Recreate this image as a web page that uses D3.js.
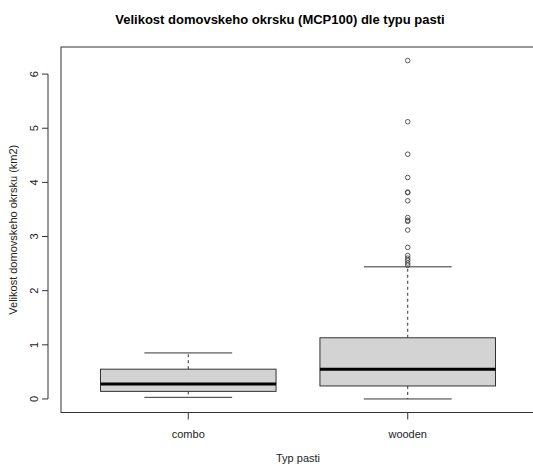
<!DOCTYPE html>
<meta charset="utf-8">
<html>
<head>
<style>
  body { margin: 0; background: #fff; }
  text { font-family: "Liberation Sans", Arial, sans-serif; }
</style>
</head>
<body>
<script src="https://d3js.org/d3.v7.min.js"></script>
<svg width="533" height="466"></svg>
<script>
    // box statistics
    var categories = ["combo", "wooden"];
    var whiskerLow = [0.03, 0.0];
    var q1 = [0.14, 0.24];
    var median = [0.277, 0.55];
    var q3 = [0.55, 1.13];
    var whiskerHigh = [0.85, 2.44];
    var outliers = [[], [6.25, 5.12, 4.52, 4.09, 3.82, 3.81, 3.66, 3.35, 3.30, 3.28, 3.12, 2.80, 2.65, 2.60, 2.56, 2.51, 2.47]];
    var yTicks = [0, 1, 2, 3, 4, 5, 6];

    var svg = d3.select("svg");
    var pLeft = 61, pRight = 535, pTop = 47, pBottom = 412.5;

    var x = d3.scaleLinear().domain([0.42, 2.58]).range([pLeft, pRight]);
    var y = d3.scaleLinear().domain([-0.25, 6.5]).range([pBottom, pTop]);
    var boxW = x(1.8) - x(1);

    svg.append("text")
        .attr("x", 280).attr("y", 24)
        .attr("text-anchor", "middle")
        .attr("font-weight", "bold")
        .attr("font-size", "13px")
        .text("Velikost domovskeho okrsku (MCP100) dle typu pasti");

    var g = svg.append("g");

    categories.forEach(function (c, i) {
        var cx = x(i + 1);
        // dashed whiskers
        g.append("line").attr("x1", cx).attr("x2", cx)
            .attr("y1", y(q3[i])).attr("y2", y(whiskerHigh[i]))
            .attr("stroke", "#333").attr("stroke-dasharray", "3,3");
        g.append("line").attr("x1", cx).attr("x2", cx)
            .attr("y1", y(q1[i])).attr("y2", y(whiskerLow[i]))
            .attr("stroke", "#333").attr("stroke-dasharray", "3,3");
        // whisker caps
        [whiskerLow[i], whiskerHigh[i]].forEach(function (v) {
            g.append("line").attr("x1", cx - boxW / 4).attr("x2", cx + boxW / 4)
                .attr("y1", y(v)).attr("y2", y(v)).attr("stroke", "#333");
        });
        g.append("rect")
            .attr("x", cx - boxW / 2).attr("width", boxW)
            .attr("y", y(q3[i])).attr("height", y(q1[i]) - y(q3[i]))
            .attr("fill", "#d3d3d3").attr("stroke", "#333");
        g.append("line").attr("x1", cx - boxW / 2).attr("x2", cx + boxW / 2)
            .attr("y1", y(median[i])).attr("y2", y(median[i]))
            .attr("stroke", "#000").attr("stroke-width", 3);
        g.selectAll(null).data(outliers[i]).enter().append("circle")
            .attr("cx", cx).attr("cy", function (d) { return y(d); })
            .attr("r", 2.3).attr("fill", "none").attr("stroke", "#333").attr("stroke-width", 0.8);
    });

    // frame
    svg.append("rect").attr("x", pLeft).attr("y", pTop)
        .attr("width", pRight - pLeft).attr("height", pBottom - pTop)
        .attr("fill", "none").attr("stroke", "#333");

    // y axis
    var ya = svg.append("g").attr("transform", "translate(" + (pLeft - 13) + ",0)");
    ya.append("line").attr("x1", 0).attr("x2", 0)
        .attr("y1", y(0)).attr("y2", y(6)).attr("stroke", "#333");
    yTicks.forEach(function (t) {
        ya.append("line").attr("x1", -6).attr("x2", 0)
            .attr("y1", y(t)).attr("y2", y(t)).attr("stroke", "#333");
        ya.append("text").attr("transform", "translate(-10," + y(t) + ") rotate(-90)")
            .attr("text-anchor", "middle").attr("font-size", "11px").attr("fill", "#222")
            .text(t);
    });

    // x axis
    var xa = svg.append("g").attr("transform", "translate(0," + pBottom + ")");
    categories.forEach(function (c, i) {
        xa.append("line").attr("x1", x(i + 1)).attr("x2", x(i + 1))
            .attr("y1", 0).attr("y2", 7).attr("stroke", "#333");
        xa.append("text").attr("x", x(i + 1)).attr("y", 25)
            .attr("text-anchor", "middle").attr("font-size", "11px").attr("fill", "#222")
            .text(c);
    });

    svg.append("text").attr("x", 298).attr("y", 462)
        .attr("text-anchor", "middle").attr("font-size", "11px").attr("fill", "#222")
        .text("Typ pasti");
    svg.append("text").attr("transform", "translate(17," + ((pTop + pBottom) / 2) + ") rotate(-90)")
        .attr("text-anchor", "middle").attr("font-size", "11px").attr("fill", "#222")
        .text("Velikost domovskeho okrsku (km2)");
</script>
</body>
</html>
